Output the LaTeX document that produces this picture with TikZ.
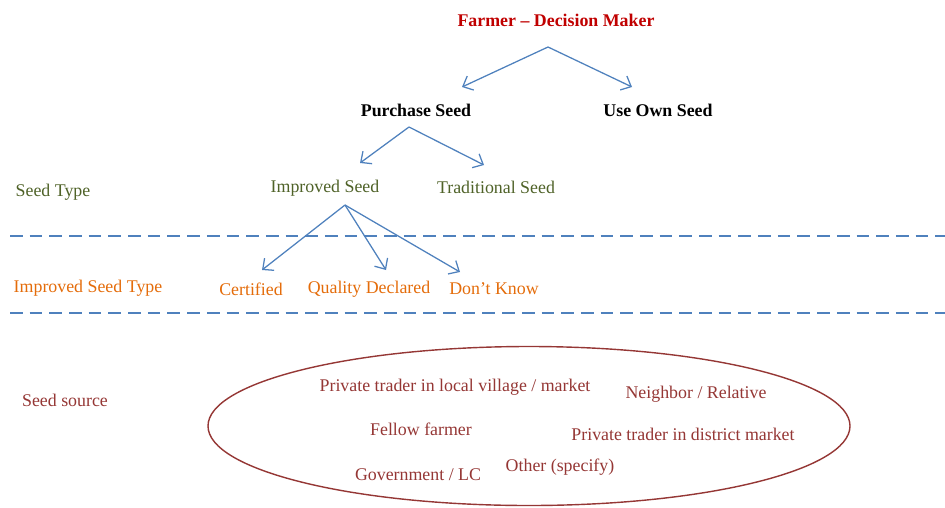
\documentclass[tikz,border=0pt]{standalone}
\usepackage{fontspec}
\setmainfont{Liberation Serif}
\usepackage{tikz}
\usetikzlibrary{arrows, arrows.meta}

\definecolor{decred}{RGB}{192,0,0}
\definecolor{arrblue}{RGB}{79,129,189}
\definecolor{typegreen}{RGB}{79,98,40}
\definecolor{typeorange}{RGB}{228,108,10}
\definecolor{srcred}{RGB}{149,55,53}

\tikzset{arr/.style={arrblue, line width=0.9pt, -{Straight Barb[length=6pt, width=11pt]}}}
\tikzset{sep/.style={arrblue, line width=1.4pt, dash pattern=on 9pt off 5pt}}

\begin{document}
\begin{tikzpicture}[x=0.025cm, y=-0.025cm]
\useasboundingbox (0,0) rectangle (945,507);

\begin{scope}[every node/.style={inner sep=0pt, font=\fontsize{12.7}{15}\selectfont}]
  \node[decred, font=\fontsize{12.7}{15}\selectfont\bfseries] (farmer) at (556,20) {Farmer -- Decision Maker};
  \node[font=\fontsize{12.7}{15}\selectfont\bfseries] (purchase) at (416,110) {Purchase Seed};
  \node[font=\fontsize{12.7}{15}\selectfont\bfseries] (own) at (658,110) {Use Own Seed};

  \node[typegreen] (seedtype) at (53,192) {Seed Type};
  \node[typegreen] (improved) at (325,188) {Improved Seed};
  \node[typegreen] (traditional) at (496,187) {Traditional Seed};

  \node[typeorange] (imptype) at (88,288) {Improved Seed Type};
  \node[typeorange] (certified) at (251,289) {Certified};
  \node[typeorange] (quality) at (369,289) {Quality Declared};
  \node[typeorange] (dontknow) at (494,289) {Don't Know};

  \node[srcred] (source) at (65,400) {Seed source};
  \node[srcred] (local) at (455,387) {Private trader in local village / market};
  \node[srcred] (neighbor) at (696,394) {Neighbor / Relative};
  \node[srcred] (fellow) at (421,429) {Fellow farmer};
  \node[srcred] (district) at (683,434) {Private trader in district market};
  \node[srcred] (govt) at (418,475) {Government / LC};
  \node[srcred] (other) at (560,467) {Other (specify)};
\end{scope}

\draw[sep] (10,236) -- (945,236);
\draw[sep] (10,313) -- (945,313);

\draw[srcred, line width=1pt] (529,426) ellipse [x radius=321, y radius=79.5];

\path[arr] ([shift={(-8,27)}]farmer.center) edge ([shift={(46,-23)}]purchase.center);
\path[arr] ([shift={(-8,27)}]farmer.center) edge ([shift={(-26,-23)}]own.center);
\path[arr] ([shift={(-7,17)}]purchase.center) edge ([shift={(35,-25)}]improved.center);
\path[arr] ([shift={(-7,17)}]purchase.center) edge ([shift={(-12,-22)}]traditional.center);
\path[arr] ([shift={(20,17)}]improved.center) edge ([shift={(11,-19)}]certified.center);
\path[arr] ([shift={(20,17)}]improved.center) edge ([shift={(17,-19)}]quality.center);
\path[arr] ([shift={(20,17)}]improved.center) edge ([shift={(-34,-17)}]dontknow.center);

\end{tikzpicture}
\end{document}
